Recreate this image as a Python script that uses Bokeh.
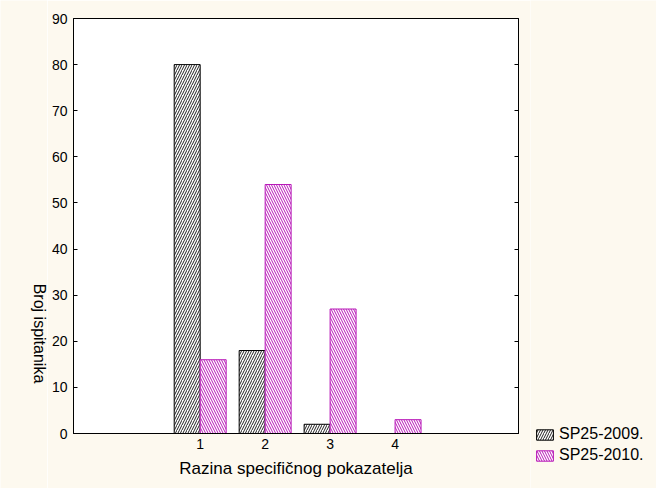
import math
from bokeh.plotting import figure
from bokeh.layouts import row, column
from bokeh.models import ColumnDataSource, Legend, LegendItem, LinearAxis, FixedTicker, Range1d, Label
from bokeh.embed import file_html
from bokeh.resources import INLINE

categories = [1, 2, 3, 4]
sp2009 = [80, 18, 2, 0]
sp2010 = [16, 54, 27, 3]
y_ticks = [0, 10, 20, 30, 40, 50, 60, 70, 80, 90]
series_names = ["SP25-2009.", "SP25-2010."]

FONT = "Liberation Sans"
CREAM = "#FDF9EF"
MAGENTA = "#B818B8"
H = 488

bw = 0.4
src = ColumnDataSource(dict(
    x09=[c - bw / 2 for c in categories],
    x10=[c + bw / 2 for c in categories],
    y09=sp2009,
    y10=sp2010,
))

style09 = dict(fill_color="white", line_color="black", line_width=1,
               hatch_pattern="/", hatch_color="#222222", hatch_scale=5, hatch_weight=1)
style10 = dict(fill_color="white", line_color=MAGENTA, line_width=1,
               hatch_pattern="\\", hatch_color=MAGENTA, hatch_scale=5, hatch_weight=1)


def blank(width):
    f = figure(width=width, height=H, output_backend="svg", toolbar_location=None,
               x_range=Range1d(0, width), y_range=Range1d(0, H),
               x_axis_type=None, y_axis_type=None,
               min_border=0, min_border_left=0, min_border_right=0,
               min_border_top=0, min_border_bottom=0,
               background_fill_color=CREAM, border_fill_color=CREAM)
    f.outline_line_color = None
    f.grid.visible = False
    return f


# ---- left strip with the y-axis title (reads top to bottom) ----
p0 = blank(47)
p0.add_layout(Label(x=39, y=H - 333, text="Broj ispitanika", angle=-math.pi / 2,
                    text_align="center", text_baseline="middle",
                    text_font=FONT, text_font_size="16px", text_color="black"))

# ---- main chart ----
p = figure(width=483, height=H, output_backend="svg", toolbar_location=None,
           x_range=Range1d(-0.95, 5.9), y_range=Range1d(0, 90),
           min_border_left=26, min_border_right=12, min_border_top=18, min_border_bottom=55,
           background_fill_color="white", border_fill_color=CREAM)
p.outline_line_color = "black"
p.outline_line_width = 1
p.xgrid.visible = False
p.ygrid.visible = False

p.vbar(x="x09", top="y09", width=bw, bottom=0, source=src, **style09)
p.vbar(x="x10", top="y10", width=bw, bottom=0, source=src, **style10)

p.xaxis.ticker = FixedTicker(ticks=categories)
p.xaxis.axis_label = "Razina specifičnog pokazatelja"
p.xaxis.axis_label_text_font = FONT
p.xaxis.axis_label_text_font_size = "17px"
p.xaxis.axis_label_text_font_style = "normal"
p.xaxis.axis_label_text_color = "black"
p.xaxis.axis_label_standoff = 7
p.xaxis.major_label_text_font = FONT
p.xaxis.major_label_text_font_size = "14px"
p.xaxis.major_label_text_color = "black"
p.xaxis.major_label_standoff = 5
p.xaxis.major_tick_in = 0
p.xaxis.major_tick_out = 0
p.xaxis.minor_tick_line_color = None

yax = p.yaxis[0]
yax.ticker = FixedTicker(ticks=y_ticks)
yax.major_label_text_font = FONT
yax.major_label_text_font_size = "14px"
yax.major_label_text_color = "black"
yax.major_label_standoff = 6
yax.major_tick_in = 4
yax.major_tick_out = 0
yax.minor_tick_line_color = None

ra = LinearAxis(ticker=FixedTicker(ticks=y_ticks), major_tick_in=4, major_tick_out=0,
                minor_tick_line_color=None,
                major_label_overrides={t: "" for t in y_ticks},
                major_label_standoff=0)
p.add_layout(ra, "right")

# ---- right strip with the legend ----
p2 = blank(126)
g09 = p2.vbar(x="x09", top="y09", width=bw, source=src, visible=False, **style09)
g10 = p2.vbar(x="x10", top="y10", width=bw, source=src, visible=False, **style10)
legend = Legend(items=[LegendItem(label=series_names[0], renderers=[g09]),
                       LegendItem(label=series_names[1], renderers=[g10])],
                location=(4, H - 464), orientation="vertical",
                background_fill_alpha=0, border_line_color=None,
                inactive_fill_alpha=0,
                glyph_width=21, glyph_height=13, label_standoff=4,
                spacing=3, padding=0, margin=0,
                label_text_font=FONT, label_text_font_size="16px",
                label_text_color="black")
p2.add_layout(legend)

layout = row(column(p0), p, column(p2), spacing=0)
open("out.html", "w").write(file_html(layout, INLINE))
